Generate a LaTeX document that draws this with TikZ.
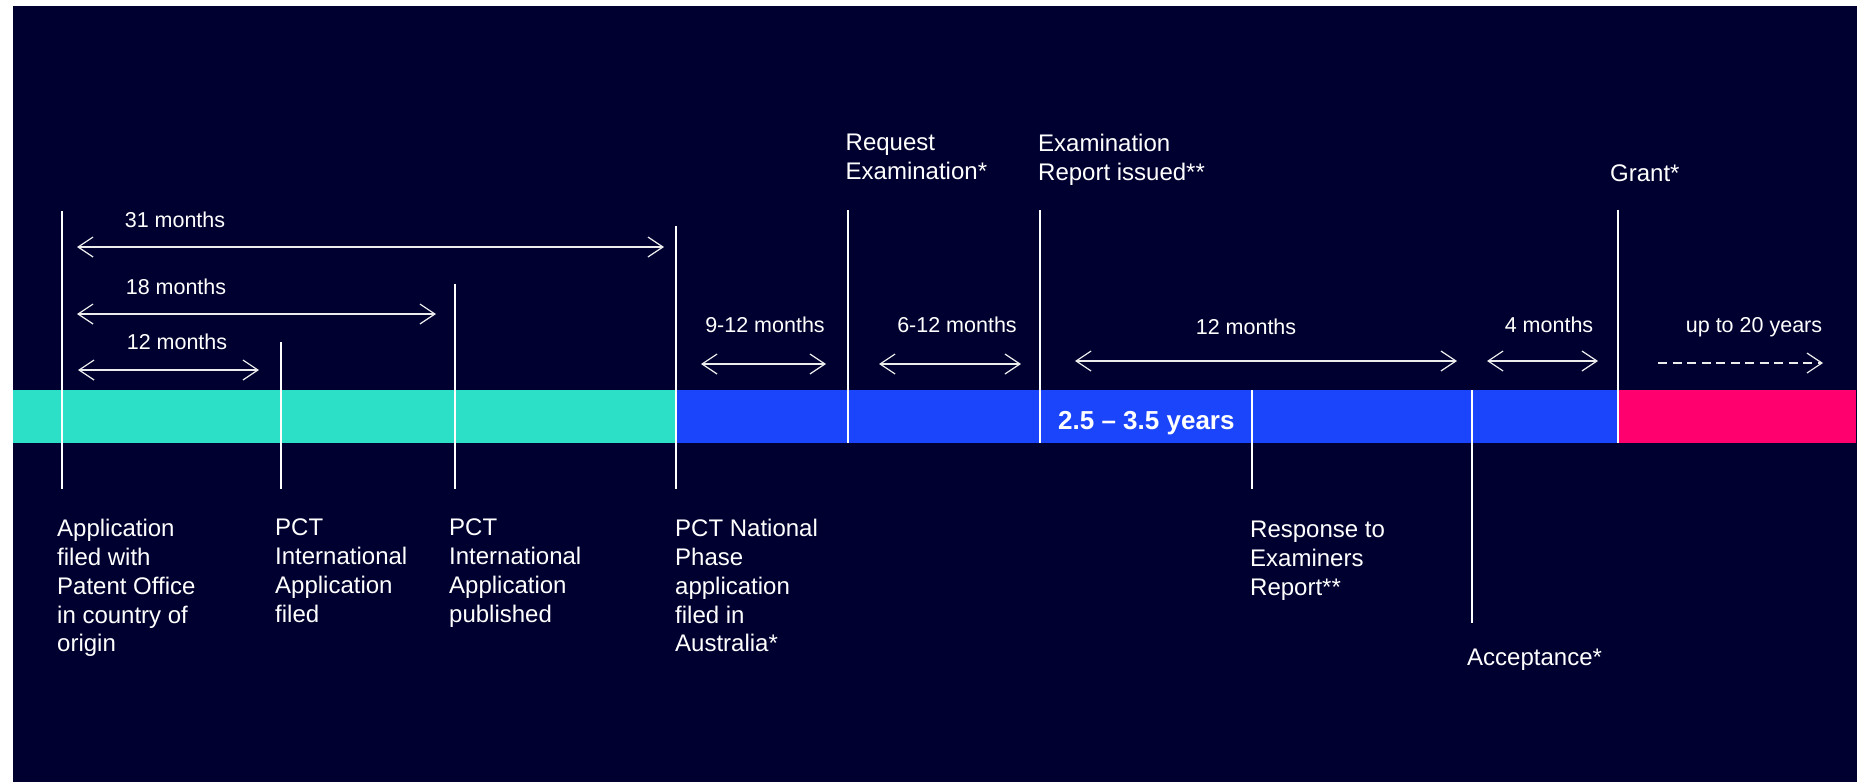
\documentclass[tikz,border=0pt]{standalone}
\usepackage{fontspec}
\setmainfont{Liberation Sans}
\usetikzlibrary{arrows.meta}
\definecolor{bgnavy}{HTML}{000030}
\definecolor{tealbar}{HTML}{2CE0C8}
\definecolor{bluebar}{HTML}{1A45FB}
\definecolor{pinkbar}{HTML}{FF006E}
\tikzset{
  tick/.style={draw=white, line width=1.2pt},
  barb/.tip={Straight Barb[length=15pt,width=20pt,line width=1.2pt]},
  span/.style={draw=white!85!gray, line width=1.4pt, barb-barb},
  openspan/.style={draw=white!85!gray, line width=1.4pt, dash pattern=on 9pt off 5.5pt, -barb},
  spanlabel/.style={text=white, inner sep=0pt, anchor=base, font=\fontsize{21.5}{26}\selectfont},
  eventlabel/.style={text=white, inner sep=0pt, anchor=north west, align=left, font=\fontsize{24}{28.8}\selectfont},
  boldlabel/.style={text=white, inner sep=0pt, anchor=base west, font=\fontsize{26}{30}\selectfont\bfseries}
}
\begin{document}
\begin{tikzpicture}[x=1pt,y=-1pt]
\useasboundingbox (0,0) rectangle (1867,782);
\fill[white] (0,0) rectangle (1867,782);
\fill[bgnavy] (13,6) rectangle (1857,782);
% bars
\fill[tealbar] (13,390) rectangle (676,443);
\fill[bluebar] (676,390) rectangle (1618,443);
\fill[pinkbar] (1618,390) rectangle (1856,443);
% tick coordinates
\coordinate (t1a) at (62,211);   \coordinate (t1b) at (62,489);
\coordinate (t2a) at (281,342);  \coordinate (t2b) at (281,489);
\coordinate (t3a) at (455,284);  \coordinate (t3b) at (455,489);
\coordinate (t4a) at (676,226);  \coordinate (t4b) at (676,489);
\coordinate (t5a) at (848,210);  \coordinate (t5b) at (848,443);
\coordinate (t6a) at (1040,210); \coordinate (t6b) at (1040,443);
\coordinate (t7a) at (1252,390); \coordinate (t7b) at (1252,489);
\coordinate (t8a) at (1472,390); \coordinate (t8b) at (1472,623);
\coordinate (t9a) at (1618,210); \coordinate (t9b) at (1618,443);
\foreach \i in {1,...,9} { \draw[tick] (t\i a) -- (t\i b); }
% span arrows
\coordinate (s31a) at (77,247);   \coordinate (s31b) at (664,247);
\coordinate (s18a) at (77,314);   \coordinate (s18b) at (436,314);
\coordinate (s12a) at (78,370);   \coordinate (s12b) at (259,370);
\coordinate (s912a) at (701,364); \coordinate (s912b) at (826,364);
\coordinate (s612a) at (879,364); \coordinate (s612b) at (1021,364);
\coordinate (s12ea) at (1075,361); \coordinate (s12eb) at (1457,361);
\coordinate (s4a) at (1487,361);  \coordinate (s4b) at (1598,361);
\coordinate (s20a) at (1658,363); \coordinate (s20b) at (1823,363);
\draw[span] (s31a) -- (s31b);
\draw[span] (s18a) -- (s18b);
\draw[span] (s12a) -- (s12b);
\draw[span] (s912a) -- (s912b);
\draw[span] (s612a) -- (s612b);
\draw[span] (s12ea) -- (s12eb);
\draw[span] (s4a) -- (s4b);
\draw[openspan] (s20a) -- (s20b);
% span labels
\node[spanlabel] (l31) at (175,227.7) {31 months};
\node[spanlabel] (l18) at (176,294.7) {18 months};
\node[spanlabel] (l12) at (177,349.7) {12 months};
\node[spanlabel] (l912) at (765,332.7) {9-12 months};
\node[spanlabel] (l612) at (957,332.7) {6-12 months};
\node[spanlabel] (l12e) at (1246,334.7) {12 months};
\node[spanlabel] (l4) at (1549,332.7) {4 months};
\node[spanlabel] (l20) at (1754,332.7) {up to 20 years};
% bold period label
\node[boldlabel] (period) at (1058,429.3) {2.5 – 3.5 years};
% event labels
\node[eventlabel] (app) at (57,519) {Application\\filed with\\Patent Office\\in country of\\origin};
\node[eventlabel] (pctf) at (275,519) {PCT\\International\\Application\\filed};
\node[eventlabel] (pctp) at (449,519) {PCT\\International\\Application\\published};
\node[eventlabel] (pctn) at (675,519) {PCT National\\Phase\\application\\filed in\\Australia*};
\node[eventlabel] (resp) at (1250,521) {Response to\\Examiners\\Report**};
\node[eventlabel] (acc) at (1467,649) {Acceptance*};
\node[eventlabel] (req) at (845.5,134) {Request\\Examination*};
\node[eventlabel] (exam) at (1038,134) {Examination\\Report issued**};
\node[eventlabel] (grant) at (1610,165) {Grant*};
\end{tikzpicture}
\end{document}
